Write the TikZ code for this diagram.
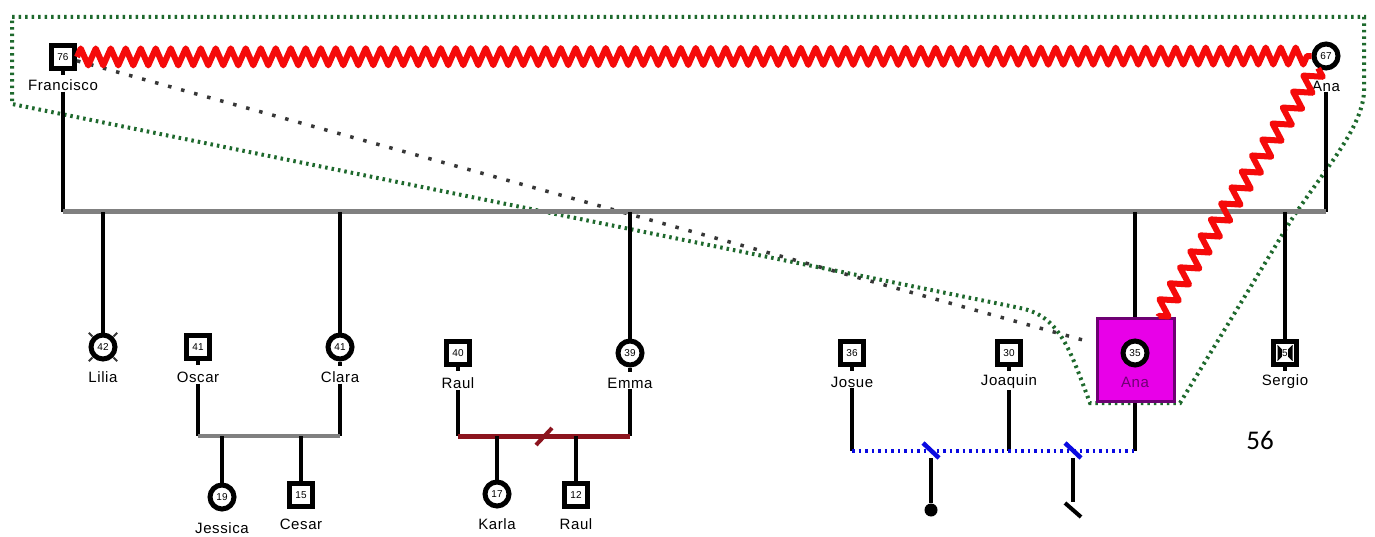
\documentclass[tikz,border=0pt]{standalone}
\usepackage{fontspec}
\setmainfont{Liberation Sans}
\newfontfamily\namefont[LetterSpace=4]{Liberation Sans}
\newfontfamily\calibrifont{Carlito}
\usetikzlibrary{decorations.pathmorphing,calc}

\definecolor{bargray}{RGB}{128,128,128}
\definecolor{divred}{RGB}{140,20,30}
\definecolor{tieblue}{RGB}{10,10,225}
\definecolor{boundgreen}{RGB}{30,105,45}
\definecolor{distgray}{RGB}{55,55,55}
\definecolor{boxmag}{RGB}{232,0,232}
\definecolor{boxpurple}{RGB}{110,0,115}
\definecolor{zigred}{RGB}{245,10,10}

\newcommand{\namesize}{\namefont\fontsize{15}{16}\selectfont}
\newcommand{\agesize}{\fontsize{10}{10}\selectfont}

\begin{document}
\begin{tikzpicture}
        [x=1pt, y=-1pt,
        male/.style={rectangle, draw, line width=5pt, fill=white, minimum size=23pt, inner sep=0pt, font=\agesize},
        female/.style={circle, draw, line width=5pt, fill=white, minimum size=24pt, inner sep=0pt, font=\agesize},
        pname/.style={font=\namesize, inner sep=1pt},
        edge/.style={line width=4.5pt, black},
        stem/.style={line width=4pt, black},
        marriage/.style={line width=5pt, bargray},
        divorced/.style={line width=5pt, divred},
        cohabit/.style={line width=3.5pt, tieblue, dash pattern=on 2.5pt off 4pt},
        conflict/.style={line width=6pt, zigred, line join=round, decorate, decoration={zigzag, segment length=15pt, amplitude=8.5pt}},
        distant/.style={line width=3.5pt, distgray, dash pattern=on 3.5pt off 10pt},
        household/.style={line width=4pt, boundgreen, dash pattern=on 2.5pt off 4pt}]

        \useasboundingbox[fill=white] (0,0) rectangle (1375,537);

        % household boundary
        \draw[household] (12,17) -- (1364,17) -- (1364,92)
            .. controls (1362,130) and (1320,175) .. (1290,222) -- (1180,403) -- (1090,403)
            .. controls (1070,350) and (1060,316) .. (1020,308) -- (12,104) -- cycle;

        % people
        \node[male] (fra) at (63,57) {76};
        \node[pname] (fraN) at (63,85) {Francisco};
        \node[female] (ana) at (1326,56) {67};
        \node[pname] (anaN) at (1326,86) {Ana};

        \node[female] (lil) at (103,347) {42};
        \node[pname] (lilN) at (103,377) {Lilia};
        \node[male] (osc) at (198,347) {41};
        \node[pname] (oscN) at (198,377) {Oscar};
        \node[female] (cla) at (340,347) {41};
        \node[pname] (claN) at (340,377) {Clara};
        \node[female] (jes) at (222,497) {19};
        \node[pname] (jesN) at (222,528) {Jessica};
        \node[male] (ces) at (301,495) {15};
        \node[pname] (cesN) at (301,524) {Cesar};

        \node[male] (rau) at (458,353) {40};
        \node[pname] (rauN) at (458,383) {Raul};
        \node[female] (emm) at (630,353) {39};
        \node[pname] (emmN) at (630,383) {Emma};
        \node[female] (kar) at (497,494) {17};
        \node[pname] (karN) at (497,524) {Karla};
        \node[male] (rauj) at (576,495) {12};
        \node[pname] (raujN) at (576,524) {Raul};

        \node[male] (jos) at (852,353) {36};
        \node[pname] (josN) at (852,382) {Josue};
        \node[male] (joa) at (1009,353) {30};
        \node[pname] (joaN) at (1009,382) {Joaquin};
        \node[rectangle, draw=boxpurple, fill=boxmag, line width=3.5pt, minimum width=77pt, minimum height=83pt] (box) at (1136,360) {};
        \node[female] (anj) at (1135,353) {35};
        \node[pname, text=boxpurple] (anjN) at (1135,382) {Ana};
        \node[male] (ser) at (1285,353) {};
        \node[pname] (serN) at (1285,382) {Sergio};

        \node[font={\calibrifont\fontsize{27}{27}\selectfont}] (gen) at (1260,440) {56};

        % little stems under the symbols
        \foreach \p in {fra,osc,cla,rau,emm,jos,joa,ser}
            \draw[stem] (\p.south) -- ++(0,4);

        % deceased mark for Lilia
        \foreach \a in {45,135,225,315}
            \draw[line width=1.8pt, distgray] (lil.center) ++(\a:15) -- ++(\a:5);

        % mark in Sergio
        \fill (ser.center) ++(-7.5,-7.5) -- ++(5,5) -- ++(0,5) -- ++(-5,5) -- cycle;
        \fill (ser.center) ++(7.5,-7.5) -- ++(-5,5) -- ++(0,5) -- ++(5,5) -- cycle;
        \draw[line width=0.8pt] (ser.center) ++(-7.5,-7.5) -- ++(15,15) ++(0,-15) -- ++(-15,15);
        \node[font=\agesize, inner sep=0.3pt, fill=white] at (ser.center) {5};

        % coordinates of the bars
        \coordinate (famL) at (63,212);
        \coordinate (famR) at (1326,212);
        \coordinate (ocL) at (198,436);
        \coordinate (ocR) at (340,436);
        \coordinate (reL) at (458,436);
        \coordinate (reR) at (630,436);
        \coordinate (jaL) at (852,451);
        \coordinate (jaR) at (1135,451);
        \coordinate (pb1) at (931,451);
        \coordinate (pb2) at (1073,451);
        \coordinate (abo) at (1073,502);
        \coordinate (tipD) at (1090,342);
        \node[circle, fill, inner sep=0pt, minimum size=13pt] (mis) at (931,510) {};

        % distant relation
        \draw[distant] (fra) -- (tipD);

        % main family
        \draw[edge] (fraN) -- (famL);
        \draw[edge] (anaN) -- (famR);
        \draw[marriage] (famL) -- (famR);
        \draw[edge] (lil) -- (lil |- famL);
        \draw[edge] (cla) -- (cla |- famL);
        \draw[edge] (emm) -- (emm |- famL);
        \draw[edge] (box.north -| anj) -- (anj |- famL);
        \draw[edge] (ser) -- (ser |- famL);

        % Oscar and Clara
        \draw[edge] (oscN) -- (ocL);
        \draw[edge] (claN) -- (ocR);
        \draw[marriage, line width=4.5pt] (ocL) -- (ocR);
        \draw[edge] (jes) -- (jes |- ocL);
        \draw[edge] (ces) -- (ces |- ocL);

        % Raul and Emma
        \draw[edge] (rauN) -- (reL);
        \draw[edge] (emmN) -- (reR);
        \draw[divorced] (reL) -- (reR);
        \draw[divorced, line width=4pt] ($(reL)!0.5!(reR)$) ++(-8,9) -- ++(16,-17);
        \draw[edge] (kar) -- (kar |- reL);
        \draw[edge] (rauj) -- (rauj |- reL);

        % Ana, Josue and Joaquin
        \draw[edge] (josN) -- (jaL);
        \draw[edge] (joaN) -- (joaN |- jaL);
        \draw[edge] (box.south -| anj) -- (jaR);
        \draw[cohabit] (jaL) -- (jaR);
        \draw[line width=4.5pt, tieblue] (pb1) ++(-8,-8) -- ++(16,15);
        \draw[line width=4.5pt, tieblue] (pb2) ++(-8,-8) -- ++(16,15);
        \draw[edge] (pb1) ++(0,7) -- (mis);
        \draw[edge] (pb2) ++(0,7) -- (abo);
        \draw[line width=4pt] (abo) ++(-8,1) -- ++(16,14);

        % conflict relations
        \draw[conflict] (fra) -- (ana);
        \draw[conflict, decoration={segment length=19pt}] (ana) -- ($(box.north east)+(-18,0)$);

\end{tikzpicture}
\end{document}
